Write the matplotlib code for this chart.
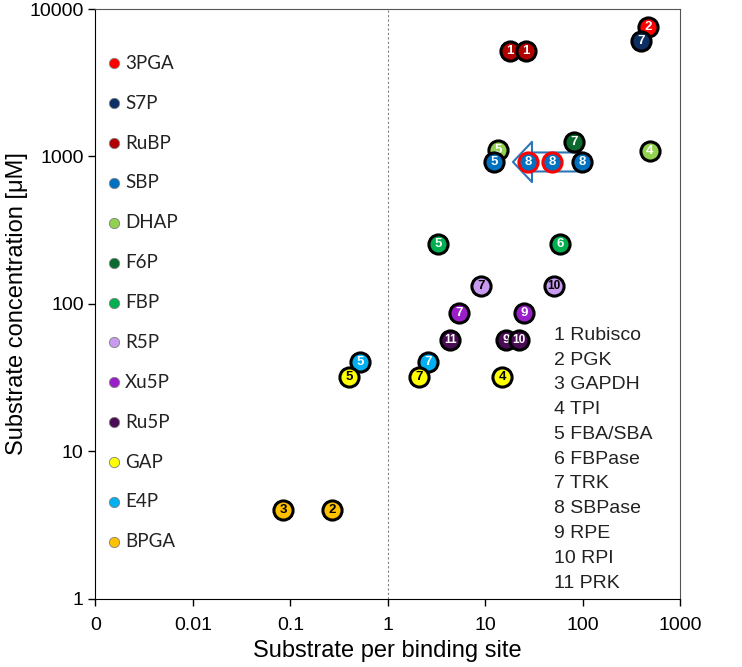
import matplotlib
matplotlib.use("Agg")
import matplotlib.pyplot as plt
from matplotlib.patches import FancyArrowPatch

plt.rcParams['font.family'] = ['Liberation Sans', 'DejaVu Sans']

# -----------------------------
# Data
# -----------------------------
metabolites = ["3PGA", "S7P", "RuBP", "SBP", "DHAP", "F6P", "FBP",
               "R5P", "Xu5P", "Ru5P", "GAP", "E4P", "BPGA"]
metab_colors = ["#FF0000", "#0E2F63", "#B00000", "#0070C0", "#92D050", "#0B6B2E",
                "#00B050", "#C89BF0", "#9A1FC8", "#4A0D55", "#FFFF00", "#00B0F0", "#FFC000"]
metab_textcolors = ["white", "white", "white", "white", "white", "white", "white",
                    "black", "white", "white", "black", "white", "black"]

enzymes = ["Rubisco", "PGK", "GAPDH", "TPI", "FBA/SBA", "FBPase",
           "TRK", "SBPase", "RPE", "RPI", "PRK"]

# one entry per plotted point
pt_metab = ["3PGA", "S7P", "RuBP", "RuBP", "DHAP", "SBP", "F6P", "SBP", "SBP", "SBP", "DHAP",
            "FBP", "FBP", "R5P", "R5P", "Xu5P", "Xu5P", "Ru5P", "Ru5P", "Ru5P",
            "E4P", "E4P", "GAP", "GAP", "GAP", "BPGA", "BPGA"]
pt_enzyme = [2, 7, 1, 1, 5, 5, 7, 8, 8, 8, 4,
             5, 6, 7, 10, 7, 9, 11, 9, 10,
             5, 7, 5, 7, 4, 3, 2]
pt_x = [469, 397, 18.0, 26.3, 13.6, 12.3, 81.6, 27.5, 48.5, 98.6, 491,
        3.29, 58.6, 9.08, 50.8, 5.4, 25.1, 4.37, 16.4, 22.3,
        0.521, 2.6, 0.402, 2.1, 14.9, 0.0847, 0.269]
pt_y = [7550, 6070, 5190, 5190, 1107, 918, 1254, 918, 918, 918, 1090,
        255, 255, 132, 132, 87, 87, 57, 57, 57,
        40.4, 40.4, 32, 32, 32, 4.0, 4.0]
pt_edge = ["black"] * 7 + ["red", "red"] + ["black"] * 18

x_ticks = [0.001, 0.01, 0.1, 1, 10, 100, 1000]
x_ticklabels = ["0", "0.01", "0.1", "1", "10", "100", "1000"]
y_ticks = [1, 10, 100, 1000, 10000]
y_ticklabels = ["1", "10", "100", "1000", "10000"]

# SBPase shift arrow (from / to, substrate per site)
arrow_from = (98.6, 918)
arrow_to = (19.3, 918)

# -----------------------------
# Plot
# -----------------------------
fig = plt.figure(figsize=(7.42, 6.67), dpi=100)
ax = fig.add_axes([0.1287, 0.102, 0.7877, 0.8845])
ax.set_xscale("log")
ax.set_yscale("log")
ax.set_xlim(0.001, 1000)
ax.set_ylim(1, 10000)

ax.axvline(1, color="grey", linestyle=(0, (2, 2)), linewidth=0.8, zorder=1)

arrow = FancyArrowPatch(arrow_from, arrow_to, mutation_scale=10,
                        arrowstyle="simple,head_length=1.37,head_width=2.9,tail_width=1.37",
                        facecolor="white", edgecolor="#2E75B6", linewidth=1.5,
                        shrinkA=0, shrinkB=0, zorder=2)
ax.add_patch(arrow)

color_of = dict(zip(metabolites, metab_colors))
tcolor_of = dict(zip(metabolites, metab_textcolors))
for i in range(len(pt_x)):
    m = pt_metab[i]
    ax.scatter(pt_x[i], pt_y[i], s=190, color=color_of[m], edgecolors=pt_edge[i],
               linewidths=2.2, zorder=3 + i * 0.01)
    label = str(pt_enzyme[i])
    ax.text(pt_x[i], pt_y[i], label, ha="center", va="center",
            fontsize=9.5 if len(label) == 1 else 8.5, fontweight="bold",
            color=tcolor_of[m], zorder=3 + i * 0.01 + 0.005)

# metabolite legend (left)
for i, (name, c) in enumerate(zip(metabolites, metab_colors)):
    yy = 0.908 - i * 0.0676
    ax.scatter(0.0317, yy, s=55, color=c, edgecolors="#808080", linewidths=0.6,
               transform=ax.transAxes, zorder=4, clip_on=False)
    ax.text(0.0505, yy, name, transform=ax.transAxes, ha="left", va="center",
            fontsize=13.5, family=["Lato", "DejaVu Sans"], color="#222222")

# enzyme list (right)
for i, name in enumerate(enzymes):
    yy = 0.447 - i * 0.042
    ax.text(0.784, yy, f"{i + 1} {name}", transform=ax.transAxes, ha="left",
            va="center", fontsize=14, color="#222222")

ax.set_xticks(x_ticks)
ax.set_xticklabels(x_ticklabels)
ax.set_yticks(y_ticks)
ax.set_yticklabels(y_ticklabels)
ax.minorticks_off()
ax.tick_params(axis="both", labelsize=14, length=5, width=1, direction="out")
ax.tick_params(axis="x", pad=8)

ax.set_xlabel("Substrate per binding site", fontsize=17, labelpad=4)
ax.set_ylabel("Substrate concentration [μM]", fontsize=17, labelpad=1)

for side in ["top", "right"]:
    ax.spines[side].set_color("#555555")

fig.savefig("out.png", dpi=100)
print("saved out.png")
